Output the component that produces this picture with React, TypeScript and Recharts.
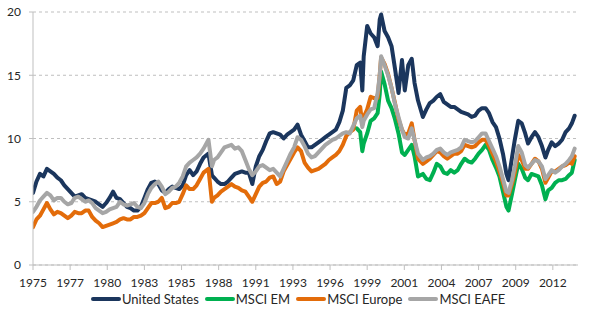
import React from 'react';
import { LineChart, Line, XAxis, YAxis, CartesianGrid } from 'recharts';

// Decimal-year positions of the sampled points
const dates: number[] = [
  1975, 1975.25, 1975.5, 1975.75,
  1976, 1976.25, 1976.5, 1976.75,
  1977, 1977.25, 1977.5, 1977.75,
  1978, 1978.25, 1978.5, 1978.75,
  1979, 1979.25, 1979.5, 1979.75,
  1980, 1980.25, 1980.5, 1980.75,
  1981, 1981.25, 1981.5, 1981.75,
  1982, 1982.25, 1982.5, 1982.75,
  1983, 1983.25, 1983.5, 1983.75,
  1984, 1984.25, 1984.5, 1984.75,
  1985, 1985.25, 1985.5, 1985.75,
  1986, 1986.25, 1986.5, 1986.75,
  1987, 1987.25, 1987.6, 1987.85,
  1988, 1988.25, 1988.5, 1988.75,
  1989, 1989.25, 1989.5, 1989.75,
  1990, 1990.25, 1990.5, 1990.75,
  1991, 1991.25, 1991.5, 1991.75,
  1992, 1992.25, 1992.5, 1992.75,
  1993, 1993.25, 1993.5, 1993.75,
  1994, 1994.25, 1994.5, 1994.75,
  1995, 1995.25, 1995.5, 1995.75,
  1996, 1996.25, 1996.5, 1996.75,
  1997, 1997.25, 1997.5, 1997.75,
  1998, 1998.25, 1998.5, 1998.65, 1998.75,
  1999, 1999.25, 1999.5, 1999.75, 1999.9,
  2000, 2000.25, 2000.5, 2000.75,
  2001, 2001.25, 2001.5, 2001.7, 2001.95,
  2002.2, 2002.4, 2002.65,
  2003, 2003.25, 2003.5, 2003.75,
  2004, 2004.25, 2004.5, 2004.75,
  2005, 2005.25, 2005.5, 2005.75,
  2006, 2006.25, 2006.5, 2006.75,
  2007, 2007.25, 2007.5, 2007.75,
  2008, 2008.25, 2008.5, 2008.75,
  2009, 2009.15, 2009.4, 2009.6, 2009.85,
  2010.1, 2010.35, 2010.55, 2010.8,
  2011.05, 2011.3, 2011.55, 2011.8,
  2012, 2012.25, 2012.5, 2012.75,
  2013, 2013.25, 2013.5, 2013.7, 2013.9,
];

const unitedStates: number[] = [
  5.7, 6.6, 7.2, 7.0,
  7.6, 7.4, 7.2, 6.9,
  6.7, 6.3, 6.0, 5.7,
  5.4, 5.5, 5.6, 5.3,
  5.2, 5.1, 5.0, 4.8,
  4.6, 4.9, 5.3, 5.8,
  5.3, 5.2, 4.9, 4.6,
  4.5, 4.3, 4.3, 4.6,
  5.3, 6.0, 6.5, 6.6,
  6.4, 5.9, 5.7, 6.0,
  6.2, 6.1, 6.0, 6.3,
  7.1, 7.5, 7.1, 7.4,
  8.0, 8.5, 8.8, 7.1,
  6.9, 6.6, 6.4, 6.4,
  6.6, 6.9, 7.2, 7.3,
  7.4, 7.3, 7.3, 6.4,
  7.8, 8.6, 9.1, 9.8,
  10.4, 10.5, 10.4, 10.3,
  10.0, 10.3, 10.5, 10.7,
  11.1, 10.3, 9.8, 9.3,
  9.3, 9.5, 9.7, 9.9,
  10.1, 10.3, 10.5, 10.7,
  11.3, 12.2, 14.0, 14.2,
  14.6, 15.8, 16.0, 13.8, 16.5,
  18.9, 18.3, 18.0, 17.3, 19.4,
  19.8, 18.5, 18.0, 17.3,
  15.5, 13.6, 16.2, 13.8, 15.8,
  16.3, 14.4, 13.0,
  11.7, 12.3, 12.8, 13.0,
  13.3, 13.5, 12.9, 12.7,
  12.5, 12.5, 12.3, 12.1,
  12.0, 11.9, 11.7, 11.8,
  12.2, 12.4, 12.4, 12.0,
  11.3, 10.9, 10.0, 8.8,
  7.2, 6.7, 8.5, 9.9, 11.4,
  11.2, 10.4, 9.6, 10.1,
  10.5, 10.1, 9.4, 8.5,
  9.1, 9.7, 9.4, 9.6,
  9.9, 10.5, 10.8, 11.2, 11.8,
];

const msciEurope: number[] = [
  3.0, 3.6, 3.9, 4.4,
  4.9, 4.4, 4.0, 4.2,
  4.1, 3.9, 3.7, 3.9,
  4.2, 4.1, 4.1, 4.3,
  4.3, 3.8, 3.5, 3.3,
  3.0, 3.1, 3.2, 3.3,
  3.4, 3.6, 3.7, 3.6,
  3.6, 3.8, 3.8, 3.9,
  4.1, 4.5, 4.9, 4.9,
  5.0, 5.3, 4.5, 4.6,
  4.9, 4.9, 5.0, 5.6,
  6.3, 6.0, 6.0, 6.3,
  6.8, 7.3, 7.6, 5.0,
  5.3, 5.5, 5.8, 6.0,
  6.2, 6.4, 6.2, 6.1,
  5.9, 5.8, 5.4, 5.0,
  5.6, 6.2, 6.5, 6.6,
  6.9, 7.0, 6.4, 6.6,
  7.4, 7.9, 8.4, 8.9,
  9.3, 9.0, 8.1, 7.7,
  7.4, 7.5, 7.6, 7.8,
  8.0, 8.3, 8.5, 8.7,
  9.0, 9.5, 10.2, 10.5,
  10.7, 12.2, 12.5, 11.1, 11.7,
  12.3, 13.3, 13.2, 13.2, 15.0,
  16.4, 15.9, 15.1, 14.0,
  12.8, 11.5, 10.7, 10.3, 10.4,
  11.2, 9.9, 8.4,
  8.0, 8.2, 8.4, 8.7,
  9.0, 8.9, 8.6, 8.4,
  8.6, 8.8, 8.8, 9.0,
  9.5, 9.4, 9.3, 9.4,
  9.7, 9.9, 9.9, 9.4,
  8.8, 8.2, 7.4, 6.5,
  5.5, 5.5, 6.4, 7.3, 8.7,
  8.3, 7.6, 7.6, 8.0,
  8.4, 8.2, 7.6, 6.5,
  6.9, 7.4, 7.4, 7.6,
  7.8, 7.9, 8.1, 8.0, 8.6,
];

const msciEafe: number[] = [
  4.2, 4.6, 5.1, 5.4,
  5.7, 5.5, 5.1, 5.3,
  5.3, 5.0, 4.8, 4.9,
  5.3, 5.4, 5.2, 5.0,
  5.1, 4.9, 4.5, 4.3,
  4.1, 4.2, 4.4, 4.5,
  4.6, 5.0, 4.8, 4.7,
  4.8, 4.9, 4.6, 4.5,
  4.9, 5.6, 6.1, 6.4,
  6.6, 6.2, 5.6, 5.8,
  6.1, 6.2, 6.5, 7.0,
  7.8, 8.1, 8.3, 8.5,
  8.8, 9.2, 9.9, 7.8,
  8.3, 8.5, 8.9, 9.3,
  9.4, 9.5, 9.2, 9.3,
  9.0, 8.3, 7.6, 7.1,
  7.4, 7.8, 7.9, 7.7,
  7.5, 7.6, 7.3, 7.0,
  7.6, 8.2, 8.8, 9.3,
  10.1, 9.9, 9.4, 8.8,
  8.5, 8.6, 8.9, 9.2,
  9.5, 9.7, 9.9, 10.0,
  10.2, 10.4, 10.5, 10.4,
  11.0, 11.6, 11.8, 10.9, 11.4,
  11.9, 12.3, 12.4, 13.6, 15.0,
  16.5, 15.8, 15.0, 14.0,
  12.7, 11.7, 10.7, 10.1, 10.0,
  10.8, 9.9, 8.8,
  8.3, 8.5, 8.6, 8.8,
  9.1, 9.2, 8.9, 8.7,
  8.9, 9.0, 9.1, 9.3,
  9.9, 9.8, 9.7, 9.8,
  10.1, 10.4, 10.4, 9.8,
  9.2, 8.6, 7.8, 6.8,
  5.8, 5.7, 6.7, 7.8, 9.4,
  8.9, 7.9, 7.7, 8.0,
  8.3, 8.2, 7.8, 6.8,
  7.1, 7.5, 7.3, 7.5,
  7.8, 8.0, 8.3, 8.6, 9.2,
];

// MSCI EM only begins in 1998
const emDates: number[] = [
  1998.25, 1998.5, 1998.65, 1998.75,
  1999, 1999.25, 1999.5, 1999.75, 1999.9,
  2000, 2000.25, 2000.5, 2000.75,
  2001, 2001.25, 2001.5, 2001.7, 2001.95,
  2002.2, 2002.4, 2002.65,
  2003, 2003.25, 2003.5, 2003.75,
  2004, 2004.25, 2004.5, 2004.75,
  2005, 2005.25, 2005.5, 2005.75,
  2006, 2006.25, 2006.5, 2006.75,
  2007, 2007.25, 2007.5, 2007.75,
  2008, 2008.25, 2008.5, 2008.75,
  2009, 2009.15, 2009.4, 2009.6, 2009.85,
  2010.1, 2010.35, 2010.55, 2010.8,
  2011.05, 2011.3, 2011.55, 2011.8,
  2012, 2012.25, 2012.5, 2012.75,
  2013, 2013.25, 2013.5, 2013.7, 2013.9,
];

const msciEm: number[] = [
  10.8, 10.5, 9.0, 9.6,
  10.4, 11.4, 11.6, 12.0, 13.5,
  15.3, 14.3, 13.0, 12.4,
  11.5, 10.4, 8.9, 8.7, 9.1,
  9.5, 8.6, 7.0,
  7.2, 6.8, 6.7, 7.3,
  8.0, 7.8, 7.3, 7.2,
  7.5, 7.3, 7.5, 8.0,
  8.4, 8.2, 8.1, 8.4,
  8.8, 9.1, 9.5, 9.1,
  8.3, 7.7, 7.0, 5.8,
  4.6, 4.3, 5.6, 6.7, 8.0,
  7.6, 6.9, 6.7, 7.2,
  7.1, 7.0, 6.3, 5.2,
  5.9, 6.1, 6.5, 6.7,
  6.7, 6.8, 7.1, 7.3, 8.3,
];

// x tick positions (every 32 months) and y ticks
const xTicks: number[] = [1975, 1977.667, 1980.333, 1983, 1985.667, 1988.333, 1991, 1993.667, 1996.333, 1999, 2001.667, 2004.333, 2007, 2009.667, 2012.333];
const yTicks: number[] = [0, 5, 10, 15, 20];

const seriesInfo = [
  { key: 'us', name: 'United States', color: '#1B365D' },
  { key: 'em', name: 'MSCI EM', color: '#00B050' },
  { key: 'europe', name: 'MSCI Europe', color: '#E36C0A' },
  { key: 'eafe', name: 'MSCI EAFE', color: '#A6A6A6' },
];

const emMap = new Map<number, number>();
emDates.forEach((d, i) => emMap.set(d, msciEm[i]));

const rows = dates.map((d, i) => ({
  date: d,
  us: unitedStates[i],
  em: emMap.has(d) ? emMap.get(d) : null,
  europe: msciEurope[i],
  eafe: msciEafe[i],
}));

const FONT = 'Lato, "Liberation Sans", sans-serif';

export default function App() {
  const tickStyle = { fill: '#262626', fontSize: 12, fontFamily: FONT };
  return (
    <div style={{ position: 'absolute', left: 0, top: 0, width: 605, height: 322, background: '#fff' }}>
      <LineChart width={605} height={322} data={rows} margin={{ top: 12, right: 27, left: 0, bottom: 32 }}>
        <CartesianGrid vertical={false} stroke="#BFBFBF" strokeDasharray="3 3" />
        <XAxis
          type="number"
          dataKey="date"
          domain={[1975, 2014.14]}
          ticks={xTicks}
          interval={0}
          allowDataOverflow
          tickFormatter={(v: number) => String(Math.floor(v + 0.001))}
          stroke="#BFBFBF"
          tick={tickStyle}
          tickSize={5}
          tickMargin={8}
          height={25}
        />
        <YAxis
          type="number"
          domain={[0, 20]}
          ticks={yTicks}
          interval={0}
          width={33}
          stroke="#BFBFBF"
          tick={tickStyle}
          tickSize={4}
          tickMargin={8}
        />
        {seriesInfo.map((s) => (
          <Line
            key={s.key}
            type="linear"
            dataKey={s.key}
            name={s.name}
            stroke={s.color}
            strokeWidth={4}
            strokeLinejoin="round"
            strokeLinecap="round"
            dot={false}
            activeDot={false}
            isAnimationActive={false}
          />
        ))}
      </LineChart>
      <div
        style={{
          position: 'absolute',
          left: 91,
          top: 290,
          display: 'flex',
          alignItems: 'center',
          fontFamily: FONT,
          fontSize: 13,
          color: '#262626',
          lineHeight: '18px',
          whiteSpace: 'nowrap',
        }}
      >
        {seriesInfo.map((s) => (
          <div key={s.key} style={{ display: 'flex', alignItems: 'center', marginRight: 6 }}>
            <span style={{ display: 'inline-block', width: 30, height: 4, borderRadius: 2, background: s.color, marginRight: 1 }} />
            <span>{s.name}</span>
          </div>
        ))}
      </div>
    </div>
  );
}
